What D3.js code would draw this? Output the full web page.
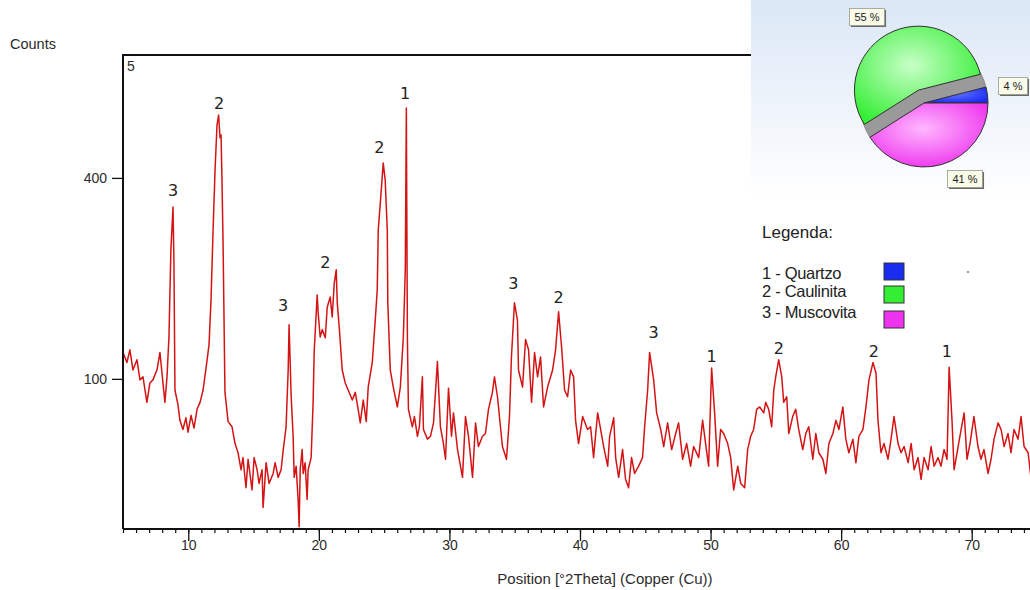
<!DOCTYPE html>
<html><head><meta charset="utf-8">
<script src="https://cdn.jsdelivr.net/npm/d3@7"></script>
<style>body{margin:0;background:#fff}svg{display:block}</style>
</head><body><svg id="c" width="1030" height="590"></svg>
<script>
// ---- data ----
const theta = [
5.00,5.30,5.53,5.76,6.07,6.30,6.53,6.83,7.06,7.29,7.60,7.83,8.06,8.21,8.37,8.52,8.67,8.83,8.90,8.98,
9.21,9.36,9.59,9.82,9.98,10.21,10.44,10.67,10.90,11.13,11.36,11.59,11.74,11.90,12.05,12.20,12.32,12.43,12.51,12.58,
12.66,12.81,13.05,13.35,13.58,13.81,14.04,14.19,14.42,14.58,14.88,15.04,15.27,15.42,15.65,15.73,15.96,16.19,16.50,16.65,
16.88,17.11,17.26,17.49,17.65,17.72,17.88,18.03,18.11,18.26,18.41,18.49,18.57,18.72,18.80,18.95,19.10,19.18,19.41,19.56,
19.64,19.87,19.95,20.10,20.26,20.49,20.64,20.87,21.02,21.18,21.33,21.41,21.56,21.79,22.02,22.25,22.56,22.79,23.01,23.17,
23.40,23.63,23.78,24.09,24.32,24.47,24.55,24.78,24.93,25.08,25.24,25.28,25.47,25.70,25.85,26.01,26.24,26.47,26.62,26.70,
26.78,26.86,27.16,27.32,27.55,27.70,27.93,28.01,28.32,28.55,28.78,29.08,29.31,29.54,29.70,29.93,30.16,30.31,30.62,31.00,
31.23,31.46,31.77,32.00,32.22,32.53,32.76,32.99,33.29,33.45,33.68,34.06,34.37,34.60,34.75,34.98,35.21,35.29,35.60,35.83,
36.06,36.29,36.52,36.75,36.98,37.21,37.52,37.90,38.13,38.36,38.59,38.82,39.05,39.28,39.51,39.66,39.89,40.20,40.58,40.81,
41.04,41.35,41.58,41.81,42.12,42.27,42.58,42.73,42.96,43.26,43.49,43.72,43.95,44.18,44.49,44.79,44.95,45.18,45.33,45.64,
45.87,46.18,46.41,46.71,47.02,47.33,47.55,47.86,48.17,48.47,48.70,49.09,49.39,49.62,49.85,50.08,50.31,50.54,50.77,51.00,
51.31,51.54,51.77,52.08,52.31,52.61,52.84,53.07,53.30,53.53,53.76,54.07,54.22,54.45,54.68,54.84,54.99,55.22,55.45,55.60,
55.83,55.99,56.29,56.52,56.75,57.06,57.29,57.52,57.83,58.06,58.29,58.60,58.83,59.06,59.37,59.60,59.83,60.13,60.36,60.59,
60.90,61.13,61.36,61.67,61.90,62.13,62.44,62.67,62.82,63.05,63.28,63.59,63.82,64.05,64.36,64.59,64.82,65.13,65.36,65.59,
65.89,66.12,66.35,66.66,66.89,67.12,67.42,67.65,67.88,68.11,68.27,68.49,68.65,68.96,69.19,69.42,69.64,69.87,70.17,70.48,
70.71,70.94,71.25,71.48,71.71,72.02,72.25,72.48,72.78,73.01,73.24,73.55,73.78,74.01,74.32,74.55
];
const counts = [
128,117,131,109,120,99,102,78,96,99,109,128,96,78,102,146,270,344,253,89,
76,63,56,65,54,67,57,72,78,89,111,137,194,303,416,512,535,484,490,396,
286,87,62,58,46,40,30,37,21,36,20,37,30,23,30,13,34,23,28,34,
26,30,41,58,109,161,83,51,26,32,16,7,30,42,28,34,16,30,37,78,
128,201,176,146,155,145,184,198,171,218,238,190,158,109,96,89,80,87,72,61,
80,62,92,117,167,208,303,376,430,396,303,190,109,92,83,74,92,146,238,551,
146,72,58,66,51,58,102,56,49,51,61,118,58,46,36,91,51,69,42,26,
66,51,26,61,44,51,53,72,87,102,83,44,36,66,123,190,167,109,92,143,
131,78,128,102,123,74,92,109,131,178,134,89,83,109,102,63,46,66,56,58,
37,69,56,44,32,51,65,37,26,42,25,21,37,28,32,37,58,89,128,99,
69,56,44,61,42,53,61,36,46,32,44,37,63,46,32,111,69,32,56,53,
46,37,20,32,23,21,42,51,56,72,74,69,78,72,58,89,102,120,102,78,
83,53,66,72,56,42,53,58,36,53,40,36,28,46,53,63,56,74,49,40,
49,34,51,56,74,99,117,106,63,40,46,36,49,66,46,40,44,34,46,30,
37,25,37,30,44,32,37,32,42,36,112,63,30,44,56,69,36,46,66,44,
36,42,28,36,49,61,56,44,53,40,56,49,66,44,40,25
];
const xMajorTicks = [10,20,30,40,50,60,70];
const yTicks = [100,400];
const peakText   = ["3","2","3","2","2","1","3","2","3","1","2","2","1"];
const peakTheta  = [8.83,12.35,17.26,20.49,24.63,26.61,34.90,38.36,45.64,50.08,55.22,62.51,68.10];
const peakCounts = [376,561,186,250,462,585,217,197,151,124,132,129,129];
const phaseNames  = ["1 - Quartzo","2 - Caulinita","3 - Muscovita"];
const phaseValues = [4,55,41];
const phasePct    = ["4 %","55 %","41 %"];
const phaseColors = ["#1a2cf0","#33ee33","#ee33ee"];
const phaseLight  = ["#6677ff","#c8ffc8","#ffb8ff"];

// ---- layout ----
const svg = d3.select("#c");
const L = 123, R = 1037, T = 55, B = 529;
const x = d3.scaleLinear().domain([5, 75]).range([L, R]);
const y = d3.scaleSqrt().domain([6.4, 682]).range([B, T]);
const txt = "#2b2b2b";
const sans = "'Liberation Sans', Arial, sans-serif";

const defs = svg.append("defs");
defs.append("clipPath").attr("id","plotClip").append("rect")
  .attr("x", L).attr("y", T - 5).attr("width", R - L).attr("height", B - T + 5);

// spectrum line
const pts = theta.map((t,i)=>[t, counts[i]]);
svg.append("path").datum(pts)
  .attr("clip-path","url(#plotClip)")
  .attr("fill","none").attr("stroke","#d41414").attr("stroke-width",1.5)
  .attr("stroke-linejoin","round")
  .attr("d", d3.line().x(d=>x(d[0])).y(d=>y(d[1])));

// axes
const xMinor = d3.axisBottom(x).tickValues(d3.range(5, 75)).tickSize(4).tickFormat("");
svg.append("g").attr("transform",`translate(0,${B})`).call(xMinor)
  .call(g=>{g.select(".domain").remove(); g.selectAll("line").attr("stroke","#111").attr("stroke-width",1.2);});
const xMajor = d3.axisBottom(x).tickValues(xMajorTicks).tickSize(12).tickPadding(6).tickFormat(d3.format("d"));
svg.append("g").attr("transform",`translate(0,${B})`).call(xMajor)
  .call(g=>{g.select(".domain").remove();
    g.selectAll("line").attr("stroke","#111").attr("stroke-width",1.3);
    g.selectAll("text").attr("font-family",sans).attr("font-size",14).attr("fill",txt).attr("dy","0.2em");});
const yAx = d3.axisLeft(y).tickValues(yTicks).tickSize(11).tickPadding(5).tickFormat(d3.format("d"));
svg.append("g").attr("transform",`translate(${L},0)`).call(yAx)
  .call(g=>{g.select(".domain").remove();
    g.selectAll("line").attr("stroke","#111").attr("stroke-width",1.3);
    g.selectAll("text").attr("font-family",sans).attr("font-size",14).attr("fill",txt);});

// frame
svg.append("path").attr("fill","none").attr("stroke","#111").attr("stroke-width",2)
  .attr("d",`M${L},${B}H1030M${L},${B}V${T}H760`);

// texts
svg.append("text").attr("x",10).attr("y",44).attr("dominant-baseline","central")
  .attr("font-family",sans).attr("font-size",14.5).attr("fill",txt).text("Counts");
svg.append("text").attr("x",127).attr("y",66).attr("dominant-baseline","central")
  .attr("font-family",sans).attr("font-size",14).attr("fill",txt).text("5");
svg.append("text").attr("x",605).attr("y",578).attr("text-anchor","middle").attr("dominant-baseline","central")
  .attr("font-family",sans).attr("font-size",15).attr("fill",txt).text("Position [°2Theta] (Copper (Cu))");

// peak labels
svg.append("g").selectAll("text").data(peakText).join("text")
  .attr("x",(d,i)=>x(peakTheta[i])).attr("y",(d,i)=>y(peakCounts[i]))
  .attr("text-anchor","middle").attr("dominant-baseline","central")
  .attr("font-family","'DejaVu Sans', Verdana, sans-serif").attr("font-size",16).attr("fill","#222")
  .text(d=>d);

// ---- inset pie ----
const bg = defs.append("linearGradient").attr("id","bgGrad").attr("x1",0).attr("y1",0).attr("x2",0).attr("y2",1);
bg.append("stop").attr("offset","0%").attr("stop-color","#dbe7f6");
bg.append("stop").attr("offset","100%").attr("stop-color","#ffffff");
svg.append("rect").attr("x",751).attr("y",0).attr("width",279).attr("height",200).attr("fill","url(#bgGrad)");
svg.append("rect").attr("x",751).attr("y",200).attr("width",279).attr("height",135).attr("fill","#fff");

phaseColors.forEach((c,i)=>{
  const g = defs.append("radialGradient").attr("id","pg"+i).attr("cx","45%").attr("cy","40%").attr("r","65%");
  g.append("stop").attr("offset","0%").attr("stop-color",phaseLight[i]);
  g.append("stop").attr("offset","100%").attr("stop-color",c);
});

const cx = 924, cy = 103, rad = 64, explode = 14;
const order = [0,2,1]; // clockwise from the right: quartzo, muscovita, caulinita
const a0 = Math.PI/2 - 2*Math.PI*phaseValues[0]/100;
const pie = d3.pie().value(d=>d.v).sort((a,b)=>order.indexOf(a.i)-order.indexOf(b.i))
  .startAngle(a0).endAngle(a0 + 2*Math.PI);
const slices = pie(phaseValues.map((v,i)=>({v,i})));
const arc = d3.arc().innerRadius(0).outerRadius(rad);
const pg = svg.append("g").attr("transform",`translate(${cx},${cy})`);
// gray depth under exploded slice
pg.append("path").attr("d", arc(slices[1])).attr("fill","#9a9a9a").attr("stroke","#8a8a8a");
slices.forEach((s,i)=>{
  let dx = 0, dy = 0;
  if (i === 1) { const m = (s.startAngle + s.endAngle)/2; dx = Math.sin(m)*explode; dy = -Math.cos(m)*explode; }
  pg.append("path").attr("d", arc(s)).attr("transform",`translate(${dx},${dy})`)
    .attr("fill",`url(#pg${i})`).attr("stroke","#303030").attr("stroke-width",1);
});

// percentage boxes
const boxPos = [[1013,86],[867,17],[965,179]];
phasePct.forEach((p,i)=>{
  const g = svg.append("g").attr("transform",`translate(${boxPos[i][0]},${boxPos[i][1]})`);
  const t = g.append("text").attr("text-anchor","middle").attr("dominant-baseline","central")
    .attr("font-family",sans).attr("font-size",11).attr("fill","#222").text(p);
  const w = t.node().getComputedTextLength() + 10, h = 17;
  g.insert("rect","text").attr("x",-w/2+1.5).attr("y",-h/2+1.5).attr("width",w).attr("height",h).attr("fill","#6a6a6a");
  g.insert("rect","text").attr("x",-w/2).attr("y",-h/2).attr("width",w).attr("height",h)
    .attr("fill","#fbfbea").attr("stroke","#9a9a8a").attr("stroke-width",0.8);
});

// legend
svg.append("text").attr("x",762).attr("y",232).attr("dominant-baseline","central")
  .attr("font-family",sans).attr("font-size",17).attr("fill","#222").text("Legenda:");
const legY = [273,291,312];
const swY = [263,286,311];
phaseNames.forEach((n,i)=>{
  svg.append("text").attr("x",762).attr("y",legY[i]).attr("dominant-baseline","central")
    .attr("font-family",sans).attr("font-size",16.5).attr("fill","#222").attr("letter-spacing","-0.3").text(n);
  svg.append("rect").attr("x",884).attr("y",swY[i]).attr("width",20).attr("height",17)
    .attr("fill",phaseColors[i]).attr("stroke","#333").attr("stroke-width",1);
});
svg.append("circle").attr("cx",968).attr("cy",272).attr("r",1).attr("fill","#777");
</script></body></html>
